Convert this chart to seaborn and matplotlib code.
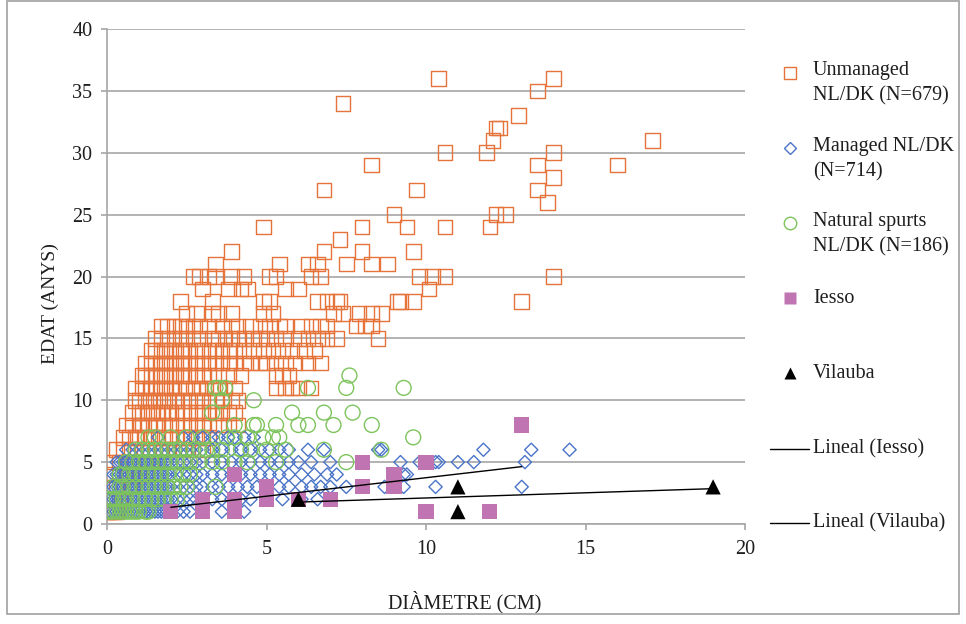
import pandas as pd
import seaborn as sns
import matplotlib.pyplot as plt
from matplotlib.lines import Line2D
from matplotlib.patches import Rectangle

# Unmanaged NL/DK (diameter cm, age years)
unmanaged = [
    (0.0, 1), (0.1, 1), (0.2, 1), (0.3, 1),
    (0.0, 2), (0.2, 2), (0.4, 2), (0.5, 2),
    (0.1, 3), (0.3, 3), (0.5, 3), (0.7, 3), (0.8, 3),
    (0.2, 4), (0.4, 4), (0.6, 4), (0.8, 4), (1.0, 4), (1.2, 4),
    (0.2, 5), (0.4, 5), (0.6, 5), (0.8, 5), (1.0, 5), (1.2, 5), (1.4, 5), (1.6, 5),
    (0.3, 6), (0.5, 6), (0.7, 6), (0.9, 6), (1.1, 6), (1.3, 6), (1.5, 6), (1.7, 6), (1.9, 6),
    (2.1, 6), (2.4, 6), (2.7, 6), (3.0, 6),
    (0.5, 7), (0.7, 7), (0.9, 7), (1.0, 7), (1.2, 7), (1.4, 7), (1.6, 7), (1.8, 7), (2.0, 7),
    (2.2, 7), (2.4, 7), (2.6, 7), (2.8, 7), (3.0, 7), (3.2, 7),
    (0.6, 8), (0.8, 8), (1.0, 8), (1.1, 8), (1.3, 8), (1.5, 8), (1.6, 8), (1.8, 8), (2.0, 8),
    (2.2, 8), (2.4, 8), (2.6, 8), (2.8, 8), (3.0, 8), (3.2, 8), (3.5, 8), (3.8, 8), (4.1, 8),
    (0.8, 9), (1.0, 9), (1.1, 9), (1.3, 9), (1.4, 9), (1.6, 9), (1.7, 9), (1.9, 9), (2.0, 9),
    (2.2, 9), (2.4, 9), (2.6, 9), (2.8, 9), (3.0, 9), (3.2, 9), (3.4, 9), (3.6, 9), (3.8, 9), (4.0, 9),
    (0.9, 10), (1.0, 10), (1.2, 10), (1.3, 10), (1.5, 10), (1.6, 10), (1.8, 10), (1.9, 10), (2.1, 10),
    (2.2, 10), (2.4, 10), (2.6, 10), (2.8, 10), (3.0, 10), (3.2, 10), (3.4, 10), (3.6, 10), (3.9, 10), (4.1, 10),
    (0.9, 11), (1.1, 11), (1.2, 11), (1.4, 11), (1.5, 11), (1.7, 11), (1.8, 11), (2.0, 11), (2.1, 11),
    (2.3, 11), (2.5, 11), (2.7, 11), (2.9, 11), (3.1, 11), (3.3, 11), (3.5, 11), (3.7, 11), (4.0, 11),
    (5.3, 11), (5.6, 11), (5.8, 11), (6.0, 11), (6.4, 11),
    (1.1, 12), (1.2, 12), (1.4, 12), (1.5, 12), (1.7, 12), (1.8, 12), (2.0, 12), (2.1, 12), (2.3, 12),
    (2.4, 12), (2.6, 12), (2.8, 12), (3.0, 12), (3.2, 12), (3.5, 12), (3.8, 12), (4.2, 12),
    (5.3, 12), (5.5, 12), (5.7, 12),
    (1.2, 13), (1.4, 13), (1.5, 13), (1.7, 13), (1.8, 13), (2.0, 13), (2.1, 13), (2.3, 13), (2.4, 13),
    (2.6, 13), (2.8, 13), (3.0, 13), (3.2, 13), (3.4, 13), (3.6, 13), (3.8, 13), (4.0, 13), (4.3, 13),
    (4.5, 13), (4.8, 13), (5.0, 13), (5.3, 13), (5.6, 13), (5.9, 13), (6.3, 13), (6.7, 13),
    (1.4, 14), (1.5, 14), (1.7, 14), (1.8, 14), (2.0, 14), (2.1, 14), (2.3, 14), (2.4, 14), (2.6, 14),
    (2.8, 14), (3.0, 14), (3.2, 14), (3.4, 14), (3.6, 14), (3.8, 14), (4.0, 14), (4.3, 14), (4.6, 14),
    (4.9, 14), (5.2, 14), (5.5, 14), (5.8, 14), (6.2, 14), (6.5, 14),
    (1.5, 15), (1.7, 15), (1.9, 15), (2.1, 15), (2.3, 15), (2.5, 15), (2.7, 15), (2.9, 15), (3.3, 15),
    (3.5, 15), (3.7, 15), (3.9, 15), (4.1, 15), (4.3, 15), (4.6, 15), (4.8, 15), (5.0, 15), (5.3, 15),
    (5.6, 15), (6.0, 15), (6.3, 15), (6.6, 15), (6.9, 15), (7.2, 15), (8.5, 15),
    (1.7, 16), (1.9, 16), (2.1, 16), (2.3, 16), (2.5, 16), (2.7, 16), (2.9, 16), (3.2, 16), (3.6, 16),
    (3.9, 16), (4.1, 16), (4.5, 16), (4.8, 16), (5.1, 16), (5.4, 16), (5.6, 16), (6.1, 16), (6.4, 16),
    (6.7, 16), (6.9, 16), (7.8, 16), (8.1, 16), (8.3, 16),
    (2.5, 17), (2.8, 17), (3.3, 17), (3.5, 17), (3.9, 17), (4.9, 17), (5.2, 17), (7.1, 17), (7.4, 17),
    (7.9, 17), (8.3, 17), (8.6, 17),
    (2.3, 18), (3.3, 18), (4.9, 18), (5.1, 18), (6.6, 18), (6.9, 18), (7.2, 18), (7.3, 18), (9.1, 18),
    (9.2, 18), (9.6, 18), (13.0, 18),
    (3.0, 19), (3.8, 19), (4.2, 19), (4.4, 19), (5.6, 19), (6.0, 19), (10.1, 19),
    (2.7, 20), (2.9, 20), (3.2, 20), (3.4, 20), (3.9, 20), (4.3, 20), (5.1, 20), (5.3, 20), (6.4, 20),
    (6.7, 20), (9.8, 20), (10.2, 20), (10.6, 20), (14.0, 20),
    (3.4, 21), (5.4, 21), (6.3, 21), (6.6, 21), (7.5, 21), (8.3, 21), (8.8, 21),
    (3.9, 22), (6.8, 22), (8.0, 22), (9.6, 22),
    (7.3, 23),
    (4.9, 24), (8.0, 24), (9.4, 24), (10.6, 24), (12.0, 24),
    (9.0, 25), (12.2, 25), (12.5, 25),
    (13.8, 26),
    (6.8, 27), (9.7, 27), (13.5, 27),
    (14.0, 28),
    (8.3, 29), (13.5, 29), (16.0, 29),
    (10.6, 30), (11.9, 30), (14.0, 30),
    (12.1, 31), (17.1, 31),
    (12.2, 32), (12.3, 32),
    (12.9, 33),
    (7.4, 34),
    (13.5, 35),
    (10.4, 36), (14.0, 36),
]

# Managed NL/DK
managed = [
    (0.0, 1), (0.1, 1), (0.2, 1), (0.3, 1), (0.4, 1), (0.5, 1), (0.6, 1), (0.7, 1), (0.8, 1), (0.9, 1),
    (1.0, 1), (1.1, 1), (1.2, 1), (1.3, 1), (1.4, 1), (1.5, 1), (1.6, 1), (1.7, 1), (1.8, 1), (1.9, 1),
    (2.0, 1), (2.2, 1), (2.4, 1), (2.6, 1), (3.6, 1), (4.3, 1),
    (0.0, 2), (0.1, 2), (0.2, 2), (0.3, 2), (0.4, 2), (0.5, 2), (0.6, 2), (0.7, 2), (0.8, 2), (0.9, 2),
    (1.0, 2), (1.1, 2), (1.2, 2), (1.3, 2), (1.4, 2), (1.5, 2), (1.6, 2), (1.7, 2), (1.8, 2), (1.9, 2),
    (2.0, 2), (2.2, 2), (2.4, 2), (2.6, 2), (2.8, 2), (3.0, 2), (3.3, 2), (3.6, 2), (3.9, 2), (4.2, 2),
    (4.5, 2), (5.0, 2), (5.5, 2), (6.1, 2), (6.6, 2),
    (0.1, 3), (0.2, 3), (0.3, 3), (0.4, 3), (0.5, 3), (0.6, 3), (0.7, 3), (0.8, 3), (0.9, 3), (1.0, 3),
    (1.1, 3), (1.2, 3), (1.3, 3), (1.4, 3), (1.5, 3), (1.6, 3), (1.7, 3), (1.8, 3), (1.9, 3), (2.0, 3),
    (2.2, 3), (2.4, 3), (2.6, 3), (2.8, 3), (3.0, 3), (3.3, 3), (3.5, 3), (3.8, 3), (4.1, 3), (4.4, 3),
    (4.7, 3), (5.0, 3), (5.4, 3), (5.7, 3), (6.1, 3), (6.4, 3), (6.7, 3), (7.0, 3), (7.5, 3), (8.7, 3),
    (9.3, 3), (10.3, 3), (13.0, 3),
    (0.2, 4), (0.3, 4), (0.4, 4), (0.5, 4), (0.6, 4), (0.7, 4), (0.8, 4), (0.9, 4), (1.0, 4), (1.1, 4),
    (1.2, 4), (1.3, 4), (1.4, 4), (1.5, 4), (1.6, 4), (1.7, 4), (1.8, 4), (1.9, 4), (2.0, 4), (2.2, 4),
    (2.4, 4), (2.6, 4), (2.8, 4), (3.0, 4), (3.3, 4), (3.6, 4), (3.9, 4), (4.2, 4), (4.5, 4), (4.8, 4),
    (5.1, 4), (5.4, 4), (5.7, 4), (6.1, 4), (6.5, 4), (6.9, 4), (7.2, 4), (9.3, 4), (9.4, 4),
    (0.3, 5), (0.4, 5), (0.5, 5), (0.6, 5), (0.7, 5), (0.8, 5), (0.9, 5), (1.0, 5), (1.1, 5), (1.2, 5),
    (1.3, 5), (1.4, 5), (1.5, 5), (1.6, 5), (1.7, 5), (1.8, 5), (1.9, 5), (2.0, 5), (2.2, 5), (2.4, 5),
    (2.6, 5), (2.8, 5), (3.0, 5), (3.3, 5), (3.6, 5), (3.9, 5), (4.2, 5), (4.5, 5), (4.8, 5), (5.1, 5),
    (5.4, 5), (5.7, 5), (6.0, 5), (6.4, 5), (7.0, 5), (9.2, 5), (9.8, 5), (10.3, 5), (10.4, 5),
    (11.0, 5), (11.5, 5), (13.1, 5),
    (0.6, 6), (0.8, 6), (1.0, 6), (1.2, 6), (1.4, 6), (1.6, 6), (1.8, 6), (2.0, 6), (2.2, 6), (2.4, 6),
    (2.6, 6), (2.8, 6), (3.0, 6), (3.3, 6), (3.6, 6), (3.9, 6), (4.2, 6), (4.5, 6), (4.8, 6), (5.1, 6),
    (5.4, 6), (5.7, 6), (6.3, 6), (6.8, 6), (8.5, 6), (8.6, 6), (11.8, 6), (13.3, 6), (14.5, 6),
    (1.6, 7), (2.4, 7), (2.7, 7), (3.0, 7), (3.3, 7), (3.5, 7), (3.8, 7), (4.0, 7), (4.3, 7), (4.6, 7),
]

# Natural spurts NL/DK
natural = [
    (0.0, 1), (0.1, 1), (0.2, 1), (0.3, 1), (0.4, 1), (0.5, 1), (0.6, 1), (0.7, 1), (0.8, 1), (0.9, 1),
    (1.0, 1), (1.2, 1), (1.3, 1),
    (0.1, 2), (0.2, 2), (0.3, 2), (0.5, 2), (0.6, 2), (0.8, 2), (1.0, 2), (1.2, 2), (1.4, 2), (1.6, 2),
    (1.8, 2), (2.0, 2), (2.2, 2),
    (0.2, 3), (0.4, 3), (0.5, 3), (0.7, 3), (0.9, 3), (1.1, 3), (1.3, 3), (1.5, 3), (1.7, 3), (1.9, 3),
    (2.1, 3), (2.3, 3), (2.5, 3), (3.4, 3),
    (0.4, 4), (0.5, 4), (0.7, 4), (0.9, 4), (1.1, 4), (1.3, 4), (1.5, 4), (1.7, 4), (1.9, 4), (2.1, 4),
    (2.4, 4), (2.6, 4),
    (0.6, 5), (0.8, 5), (1.0, 5), (1.2, 5), (1.4, 5), (1.6, 5), (1.8, 5), (2.0, 5), (2.2, 5), (2.4, 5),
    (2.6, 5), (2.9, 5), (3.3, 5), (3.6, 5), (4.0, 5), (4.4, 5), (5.3, 5), (7.5, 5),
    (0.9, 6), (1.1, 6), (1.3, 6), (1.5, 6), (1.7, 6), (1.9, 6), (2.1, 6), (2.3, 6), (2.5, 6), (2.7, 6),
    (2.9, 6), (3.1, 6), (3.3, 6), (3.6, 6), (4.2, 6), (4.5, 6), (5.0, 6), (5.6, 6), (6.8, 6), (8.6, 6),
    (1.3, 7), (1.5, 7), (2.0, 7), (2.5, 7), (3.0, 7), (3.75, 7), (4.0, 7), (4.4, 7), (4.9, 7), (5.2, 7),
    (5.4, 7), (9.6, 7),
    (4.0, 8), (4.6, 8), (4.7, 8), (5.3, 8), (6.0, 8), (6.3, 8), (7.1, 8), (8.3, 8),
    (3.3, 9), (5.8, 9), (6.8, 9), (7.7, 9),
    (3.6, 10), (4.6, 10),
    (3.4, 11), (3.5, 11), (3.7, 11), (6.3, 11), (7.5, 11), (9.3, 11),
    (7.6, 12),
]

iesso_x = [2, 3, 3, 4, 4, 4, 5, 5, 6, 7, 8, 8, 9, 9, 10, 10, 12, 13]
iesso_y = [1, 1, 2, 1, 2, 4, 2, 3, 2, 2, 3, 5, 3, 4, 5, 1, 1, 8]

vilauba_x = [6, 11, 11, 19]
vilauba_y = [2, 3, 1, 3]

labels = ["Unmanaged\nNL/DK (N=679)", "Managed NL/DK\n(N=714)", "Natural spurts\nNL/DK (N=186)",
          "Iesso", "Vilauba", "Lineal (Iesso)", "Lineal (Vilauba)"]

c_unm = "#E5733A"
c_man = "#4A74C8"
c_nat = "#7DC45C"
c_ies = "#C074B1"
grid_c = "#A6A6A6"
txt_c = "#1E1E1E"

df_unm = pd.DataFrame(unmanaged, columns=["diam", "edat"])
df_man = pd.DataFrame(managed, columns=["diam", "edat"])
df_nat = pd.DataFrame(natural, columns=["diam", "edat"])
df_ies = pd.DataFrame({"diam": iesso_x, "edat": iesso_y})
df_vil = pd.DataFrame({"diam": vilauba_x, "edat": vilauba_y})

sns.set_style("white")
plt.rcParams["font.family"] = ["Liberation Serif", "DejaVu Serif"]

W, H = 966, 624
fig = plt.figure(figsize=(W / 100, H / 100), dpi=100)
ax = fig.add_axes([107 / W, 1 - 524 / H, 638 / W, 495 / H])

sns.scatterplot(x="diam", y="edat", data=df_unm, ax=ax, marker="s", s=110,
                color=c_unm, facecolor="none", edgecolor=c_unm, linewidth=1.0, zorder=3)
sns.scatterplot(x="diam", y="edat", data=df_man, ax=ax, marker="D", s=45,
                color=c_man, facecolor="none", edgecolor=c_man, linewidth=1.0, zorder=4)
sns.scatterplot(x="diam", y="edat", data=df_nat, ax=ax, marker="o", s=115,
                color=c_nat, facecolor="none", edgecolor=c_nat, linewidth=1.0, zorder=5)
sns.scatterplot(x="diam", y="edat", data=df_ies, ax=ax, marker="s", s=120,
                color=c_ies, edgecolor="none", linewidth=0, zorder=6)
sns.regplot(x="diam", y="edat", data=df_ies, ax=ax, scatter=False, ci=None,
            line_kws=dict(color="black", lw=1.0, zorder=7))
sns.regplot(x="diam", y="edat", data=df_vil, ax=ax, scatter=False, ci=None,
            line_kws=dict(color="black", lw=1.0, zorder=7))
sns.scatterplot(x="diam", y="edat", data=df_vil, ax=ax, marker="^", s=120,
                color="black", edgecolor="none", linewidth=0, zorder=8)

ax.set_xlim(0, 20)
ax.set_ylim(0, 40)
ax.set_xticks([0, 5, 10, 15, 20])
ax.set_yticks(range(0, 41, 5))
ax.yaxis.grid(True, color=grid_c, lw=1.2)
ax.set_axisbelow(True)
for side in ["top", "right"]:
    ax.spines[side].set_visible(False)
for side in ["left", "bottom"]:
    ax.spines[side].set_color(grid_c)
    ax.spines[side].set_linewidth(1.2)
ax.tick_params(axis="both", colors=grid_c, labelcolor=txt_c, labelsize=14.5,
               length=4.5, width=1.2, direction="out", left=True, bottom=True)
ax.tick_params(axis="y", pad=6)
ax.tick_params(axis="x", pad=7)

ax.set_xlabel("DIÀMETRE (CM)", fontsize=14.5, color=txt_c)
ax.set_ylabel("EDAT (ANYS)", fontsize=14, color=txt_c)
ax.xaxis.set_label_coords(0.561, -0.135)
ax.yaxis.set_label_coords(-0.075, 0.445)

# legend drawn at fixed spots on the right, like the original
def fx(px):
    return px / W


def fy(py):
    return 1 - py / H


leg = [
    (73, 83.5, dict(marker="s", ms=8.5, mfc="none", mec=c_unm, mew=1.0)),
    (148, 159.5, dict(marker="D", ms=6.5, mfc="none", mec=c_man, mew=1.0)),
    (223, 234.5, dict(marker="o", ms=9, mfc="none", mec=c_nat, mew=1.0)),
    (298, 298, dict(marker="s", ms=9, mfc=c_ies, mec="none")),
    (373, 373, dict(marker="^", ms=9, mfc="black", mec="none")),
]
for (my, ty, st), lab in zip(leg, labels[:5]):
    fig.add_artist(Line2D([fx(790)], [fy(my)], transform=fig.transFigure, ls="none", **st))
    fig.text(fx(813), fy(ty), lab, fontsize=14.5, va="center", ha="left",
             color=txt_c, linespacing=1.45)
for ly, lab in zip([449, 523], labels[5:]):
    fig.add_artist(Line2D([fx(770), fx(809)], [fy(ly), fy(ly)], transform=fig.transFigure,
                          color="black", lw=1.0))
    fig.text(fx(813), fy(ly), lab, fontsize=14.5, va="center", ha="left", color=txt_c)

fig.add_artist(Rectangle((fx(7), fy(614)), fx(952), 613 / H, transform=fig.transFigure,
                         fill=False, edgecolor="#A0A0A0", lw=1.2))

fig.savefig("out.png", dpi=100)
